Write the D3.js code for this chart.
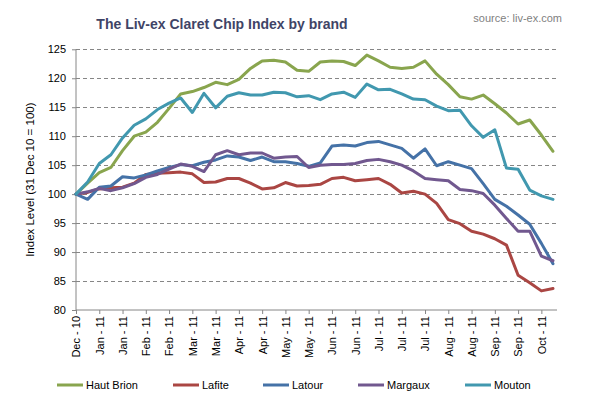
<!DOCTYPE html>
<html>
<head>
<meta charset="utf-8">
<script src="https://cdn.jsdelivr.net/npm/d3@7"></script>
<style>
  html, body { margin: 0; padding: 0; background: #fff; }
  svg { display: block; font-family: "Liberation Sans", Arial, sans-serif; }
</style>
</head>
<body>
<svg id="chart" width="597" height="405"></svg>
<script>
// ---- data ----
const xLabels = ["Dec - 10","Jan - 11","Jan - 11","Feb - 11","Feb - 11","Mar - 11","Mar - 11",
  "Apr - 11","Apr - 11","May - 11","May - 11","Jun - 11","Jun - 11","Jul - 11","Jul - 11",
  "Jul - 11","Aug - 11","Aug - 11","Sep - 11","Sep - 11","Oct - 11"];
const yTicks = [80, 85, 90, 95, 100, 105, 110, 115, 120, 125];
const seriesNames = ["Haut Brion", "Lafite", "Latour", "Margaux", "Mouton"];
const seriesColors = ["#89A54E", "#AA4643", "#4572A7", "#71588F", "#4198AF"];

const hautBrion = [100,101.9,103.7,104.6,107.5,110.0,110.7,112.4,114.8,117.3,117.7,118.4,119.3,118.9,
  119.8,121.7,123.0,123.1,122.8,121.4,121.2,122.8,123.0,122.9,122.2,124.0,123.0,121.9,121.7,121.9,
  123.0,120.7,118.9,116.8,116.4,117.1,115.6,114.0,112.1,112.8,110.2,107.4];
const lafite = [100,100.3,100.9,101.1,101.2,101.9,103.4,103.6,103.7,103.8,103.5,102.0,102.1,102.7,
  102.7,101.9,100.9,101.1,102.0,101.4,101.5,101.7,102.7,102.9,102.3,102.5,102.7,101.7,100.2,100.5,
  100.0,98.4,95.6,94.9,93.6,93.1,92.3,91.2,86.0,84.7,83.3,83.7];
const latour = [100,99.1,101.2,101.4,103.0,102.8,103.3,104.0,104.6,105.1,104.9,105.5,105.9,106.6,
  106.4,105.8,106.4,105.6,105.6,105.3,104.8,105.4,108.3,108.5,108.3,108.9,109.1,108.5,107.9,106.2,
  107.8,104.9,105.6,105.0,104.4,101.8,99.1,97.9,96.4,94.8,91.5,88.0];
const margaux = [100,100.4,101.0,100.6,101.1,101.8,102.9,103.4,104.3,105.2,104.8,103.9,106.8,107.5,
  106.8,107.1,107.1,106.2,106.4,106.5,104.6,105.0,105.1,105.1,105.3,105.8,106.0,105.6,105.0,104.0,
  102.7,102.5,102.3,100.8,100.6,100.1,98.1,95.8,93.6,93.6,89.3,88.5];
const mouton = [100,102.1,105.3,106.8,109.7,111.9,113.0,114.6,115.7,116.6,114.1,117.4,114.9,116.9,
  117.5,117.1,117.1,117.6,117.5,116.8,117.0,116.3,117.3,117.6,116.7,119.0,118.0,118.1,117.3,116.4,
  116.3,115.2,114.4,114.5,111.8,109.8,111.1,104.5,104.3,100.7,99.7,99.1];
const seriesValues = [hautBrion, lafite, latour, margaux, mouton];

// ---- layout ----
const svg = d3.select("#chart");
const axisColor = "#868686";
const plotLeft = 76, plotRight = 557, plotTop = 49.3, plotBottom = 310;

const x = d3.scaleLinear().domain([0, hautBrion.length - 1]).range([plotLeft, 553]);
const y = d3.scaleLinear().domain([80, 125]).range([plotBottom, plotTop]);

// title & source
svg.append("text").attr("x", 222).attr("y", 29).attr("text-anchor", "middle")
  .attr("font-size", 14).attr("font-weight", "bold").attr("fill", "#3F4466")
  .text("The Liv-ex Claret Chip Index by brand");
svg.append("text").attr("x", 562).attr("y", 22).attr("text-anchor", "end")
  .attr("font-size", 11).attr("fill", "#7F7F7F").text("source: liv-ex.com");

// gridlines
svg.append("g").selectAll("line").data(yTicks.filter(d => d > 80)).join("line")
  .attr("x1", plotLeft).attr("x2", plotRight)
  .attr("y1", d => y(d)).attr("y2", d => y(d))
  .attr("stroke", axisColor).attr("stroke-width", 1).attr("stroke-dasharray", "4,3")
  .attr("shape-rendering", "crispEdges");

// y axis
const yAxis = d3.axisLeft(y).tickValues(yTicks).tickSize(4).tickPadding(6).tickFormat(d3.format("d"));
const gy = svg.append("g").attr("transform", `translate(${plotLeft},0)`).call(yAxis);
gy.select(".domain").attr("stroke", axisColor).attr("d", `M0,${plotTop}V${plotBottom}`);
gy.selectAll(".tick line").attr("stroke", axisColor);
gy.selectAll(".tick text").attr("font-size", 11).attr("fill", "#000")
  .attr("font-family", "'Liberation Sans', Arial, sans-serif");

// x axis
const xTickIdx = d3.range(0, xLabels.length * 2 - 1, 2);
const xAxis = d3.axisBottom(x).tickValues(xTickIdx).tickSize(4).tickPadding(4)
  .tickFormat((d, i) => xLabels[i]);
const gx = svg.append("g").attr("transform", `translate(0,${plotBottom})`).call(xAxis);
gx.select(".domain").attr("stroke", axisColor).attr("d", `M${plotLeft},0H${plotRight}`);
gx.selectAll(".tick line").attr("stroke", axisColor);
gx.selectAll(".tick text").attr("font-size", 11).attr("fill", "#000")
  .attr("font-family", "'Liberation Sans', Arial, sans-serif")
  .attr("transform", "rotate(-90)")
  .attr("text-anchor", "end").attr("dy", "0.35em").attr("x", -6).attr("y", 0);

// y axis title
svg.append("text").attr("transform", `translate(34,${(plotTop + plotBottom) / 2}) rotate(-90)`)
  .attr("text-anchor", "middle").attr("font-size", 11.5).attr("fill", "#000")
  .text("Index Level (31 Dec 10 = 100)");

// lines
const line = d3.line().x((d, i) => x(i)).y(d => y(d));
svg.append("g").selectAll("path").data(seriesValues).join("path")
  .attr("d", d => line(d)).attr("fill", "none")
  .attr("stroke", (d, i) => seriesColors[i]).attr("stroke-width", 3)
  .attr("stroke-linejoin", "round").attr("stroke-linecap", "round");

// legend
const legendX = [57, 173, 263, 358, 465];
const lg = svg.append("g").selectAll("g").data(seriesNames).join("g")
  .attr("transform", (d, i) => `translate(${legendX[i]},385)`);
lg.append("line").attr("x1", 0).attr("x2", 26).attr("y1", 0).attr("y2", 0)
  .attr("stroke", (d, i) => seriesColors[i]).attr("stroke-width", 3);
lg.append("text").attr("x", 29).attr("y", 0).attr("dy", "0.35em")
  .attr("font-size", 11).attr("fill", "#000").text(d => d);
</script>
</body>
</html>
